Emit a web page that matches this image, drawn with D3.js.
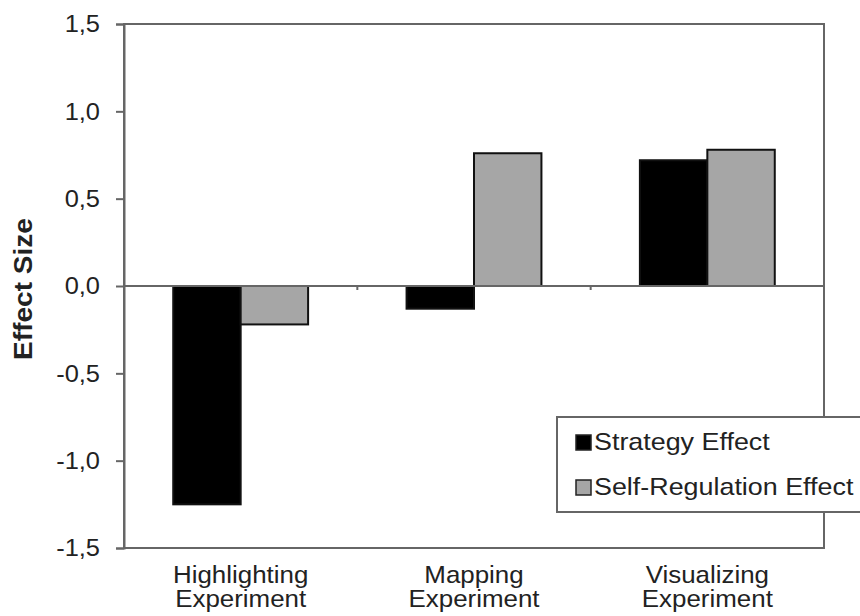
<!DOCTYPE html>
<html><head><meta charset="utf-8">
<script src="https://cdn.jsdelivr.net/npm/d3@7"></script>
<style>body{margin:0;background:#fff;} text{font-family:"Liberation Sans",Arial,sans-serif;}</style>
</head><body><svg id="c" width="860" height="616"></svg>
<script>
const categories = [["Highlighting","Experiment"],["Mapping","Experiment"],["Visualizing","Experiment"]];
const seriesNames = ["Strategy Effect","Self-Regulation Effect"];
const strategy = [-1.25, -0.13, 0.72];
const selfReg = [-0.22, 0.76, 0.78];
const yTicks = [-1.5,-1.0,-0.5,0,0.5,1.0,1.5];
const colors = ["#000000","#a6a6a6"];

const svg = d3.select("#c");
const L=124, R=824, T=24, B=548;
const x = d3.scaleBand().domain(d3.range(categories.length)).range([L,R]).paddingInner(0).paddingOuter(0);
const y = d3.scaleLinear().domain([-1.5,1.5]).range([B,T]);
const inner = d3.scaleBand().domain([0,1]).range([0, x.bandwidth()]).paddingInner(0).paddingOuter(0.73);
const frame="#666";

// frame
svg.append("rect").attr("x",L).attr("y",T).attr("width",R-L).attr("height",B-T)
  .attr("fill","none").attr("stroke",frame).attr("stroke-width",2);

// y axis
const yAxis = d3.axisLeft(y).tickValues(yTicks).tickSize(8).tickPadding(6)
  .tickFormat(d=>d3.format(".1f")(d).replace("−","-").replace(".",","));
const gy = svg.append("g").attr("transform",`translate(${L},0)`).call(yAxis);
gy.select(".domain").attr("stroke",frame).attr("stroke-width",2);
gy.selectAll(".tick line").attr("stroke",frame).attr("stroke-width",2);
gy.selectAll(".tick text").attr("font-size",24).attr("fill","#222")
  .attr("transform","scale(1.06,1)").attr("x",-24/1.06);

// bars
const series=[strategy,selfReg];
series.forEach((vals,si)=>{
  svg.append("g").selectAll("rect").data(vals).join("rect")
    .attr("x",(d,i)=>x(i)+inner(si))
    .attr("width",inner.bandwidth())
    .attr("y",d=>y(Math.max(0,d)))
    .attr("height",d=>Math.abs(y(d)-y(0)))
    .attr("fill",colors[si]).attr("stroke","#111").attr("stroke-width",2);
});

// zero line with category ticks
svg.append("line").attr("x1",L).attr("x2",R).attr("y1",y(0)).attr("y2",y(0)).attr("stroke",frame).attr("stroke-width",2);
svg.append("g").selectAll("line").data(d3.range(1,categories.length)).join("line")
  .attr("x1",i=>x(i)).attr("x2",i=>x(i)).attr("y1",y(0)).attr("y2",y(0)+4).attr("stroke",frame).attr("stroke-width",2);

// category labels
const cl = svg.append("g").selectAll("text").data(categories).join("text")
  .attr("text-anchor","middle").attr("font-size",24).attr("fill","#222")
  .attr("transform",(d,i)=>`translate(${x(i)+x.bandwidth()/2},0) scale(1.08,1)`);
cl.selectAll("tspan").data(d=>d).join("tspan").attr("x",0).attr("y",(d,j)=>583+j*24.5).text(d=>d);

// y label
svg.append("text").attr("transform",`translate(32,${289}) rotate(-90) scale(1.08,1)`).attr("text-anchor","middle")
  .attr("font-size",26).attr("font-weight","bold").attr("fill","#222").text("Effect Size");

// legend
const lg = svg.append("g");
lg.append("rect").attr("x",557).attr("y",417).attr("width",340).attr("height",95)
  .attr("fill","#fff").attr("stroke",frame).attr("stroke-width",2);
seriesNames.forEach((n,i)=>{
  lg.append("rect").attr("x",576).attr("y",435+i*45).attr("width",15).attr("height",15)
    .attr("fill",colors[i]).attr("stroke","#222").attr("stroke-width",1.5);
  lg.append("text").attr("transform",`translate(594,${450+i*45}) scale(1.12,1)`).attr("font-size",24).attr("fill","#222").text(n);
});
</script></body></html>
